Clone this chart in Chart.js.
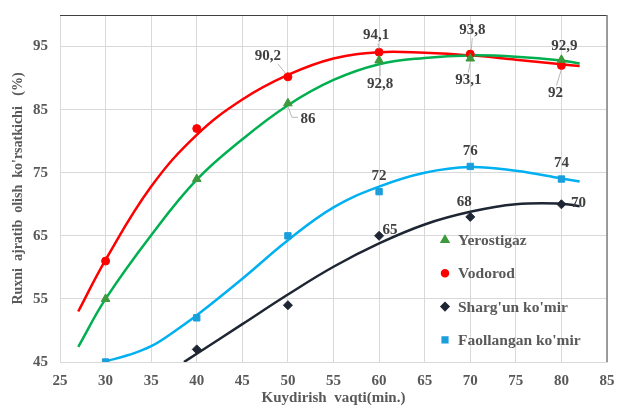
<!DOCTYPE html>
<html>
<head>
<meta charset="utf-8">
<script src="https://cdn.jsdelivr.net/npm/chart.js@4.4.1/dist/chart.umd.min.js"></script>
<style>
    html, body { margin: 0; padding: 0; background: #ffffff; }
    #wrap { width: 617px; height: 408px; }
</style>
</head>
<body>
<div id="wrap"><canvas id="roastChart" width="617" height="408"></canvas></div>
<script>
// Measured points (roasting time, min -> extraction, %)
const xValues = [30, 40, 50, 60, 70, 80];
const yerostigaz = [55, 74, 86, 92.8, 93.1, 92.9];
const vodorod = [61, 82, 90.2, 94.1, 93.8, 92];
const shargun = [null, 47, 54, 65, 68, 70];
const faollangan = [45, 52, 65, 72, 76, 74];

// Trend curves
const trendX = [27, 30, 35, 40, 45, 50, 55, 60, 65, 70, 75, 80, 82];
const yerostigazTrend = [47.4, 55.0, 65.1, 73.9, 80.3, 85.7, 89.7, 92.2, 93.2, 93.6, 93.4, 92.8, 92.3];
const vodorodTrend = [53.0, 61.2, 72.8, 81.0, 86.6, 90.5, 93.1, 94.1, 94.0, 93.6, 92.9, 92.2, 91.9];
const faollanganTrendX = [30, 32.5, 35, 37.5, 40, 45, 50, 55, 60, 65, 70, 75, 80, 82];
const faollanganTrend = [45.1, 46.1, 47.5, 49.8, 52.4, 58.2, 64.3, 69.5, 72.8, 75.0, 75.9, 75.3, 74.1, 73.6];
const shargunTrendX = [38.6, 40, 45, 50, 55, 60, 65, 70, 75, 80, 82];
const shargunTrend = [45.0, 46.3, 51.0, 55.7, 60.1, 63.8, 66.8, 68.8, 70.0, 70.1, 69.7];

const xTicks = [25, 30, 35, 40, 45, 50, 55, 60, 65, 70, 75, 80, 85];
const yTicks = [45, 55, 65, 75, 85, 95];

const FONT = '"Liberation Serif", "Times New Roman", serif';
const TEXT = '#595959';

function pairs(xs, ys) {
    const out = [];
    xs.forEach((x, i) => {
        if (ys[i] !== null) out.push({ x: x, y: ys[i] });
    });
    return out;
}

// label offsets (px from the marker) and optional leader line, per series index
const labelStyle = {
    yerostigaz: { 2: { dx: 20, dy: 16, lead: [[0, 3], [4, 14], [10, 14]] },
                  3: { dx: 1, dy: 24, lead: [[1, 4], [1, 16]] },
                  4: { dx: -2, dy: 22, lead: [[0, 4], [-2, 14]] },
                  5: { dx: 3, dy: -14 } },
    vodorod: { 2: { dx: -20, dy: -21, lead: [[-10, -13], [-2, -3]] },
               3: { dx: -3, dy: -17, lead: [[-1, -9], [0, -3]] },
               4: { dx: 2, dy: -24, lead: [[2, -16], [1, -4]] },
               5: { dx: -6, dy: 28, lead: [[0, 4], [-5, 20]] } },
    shargun: { 3: { dx: 11, dy: -6 }, 4: { dx: -6, dy: -15 }, 5: { dx: 17, dy: -1 } },
    faollangan: { 3: { dx: 0, dy: -16 }, 4: { dx: 0, dy: -15 }, 5: { dx: 0, dy: -16 } }
};

const series = [
    { key: 'yerostigaz', label: 'Yerostigaz', values: yerostigaz, tx: trendX, ty: yerostigazTrend,
      line: '#00b050', mark: '#3c9a3c', style: 'triangle', r: 5 },
    { key: 'vodorod', label: 'Vodorod', values: vodorod, tx: trendX, ty: vodorodTrend,
      line: '#ff0000', mark: '#ff0000', style: 'circle', r: 4 },
    { key: 'shargun', label: "Sharg'un ko'mir", values: shargun, tx: shargunTrendX, ty: shargunTrend,
      line: '#1f2633', mark: '#1f2633', style: 'rectRot', r: 4.5 },
    { key: 'faollangan', label: "Faollangan ko'mir", values: faollangan, tx: faollanganTrendX, ty: faollanganTrend,
      line: '#00b0f0', mark: '#1a9fdc', style: 'rect', r: 4.5 }
];

const datasets = [];
series.forEach(s => {
    datasets.push({
        label: s.label + ' trend',
        data: pairs(s.tx, s.ty),
        showLine: true,
        borderColor: s.line,
        borderWidth: 2.5,
        pointRadius: 0,
        tension: 0.4,
        order: 2
    });
    datasets.push({
        label: s.label,
        data: pairs(xValues, s.values),
        showLine: false,
        pointStyle: s.style,
        pointRadius: s.r,
        backgroundColor: s.mark,
        borderColor: s.mark,
        borderWidth: 1,
        order: 1
    });
});

// value labels with thin grey leader lines
const valueLabels = {
    id: 'valueLabels',
    afterDatasetsDraw(chart) {
        const ctx = chart.ctx;
        const xs = chart.scales.x;
        const ys = chart.scales.y;
        ctx.save();
        ctx.font = 'bold 15px ' + FONT;
        ctx.textAlign = 'center';
        ctx.textBaseline = 'middle';
        series.forEach(s => {
            const styles = labelStyle[s.key];
            s.values.forEach((v, i) => {
                const st = styles[i];
                if (!st || v === null) return;
                const px = xs.getPixelForValue(xValues[i]);
                const py = ys.getPixelForValue(v);
                if (st.lead) {
                    ctx.strokeStyle = '#a6a6a6';
                    ctx.lineWidth = 0.8;
                    ctx.beginPath();
                    st.lead.forEach((p, k) => {
                        if (k === 0) ctx.moveTo(px + p[0], py + p[1]);
                        else ctx.lineTo(px + p[0], py + p[1]);
                    });
                    ctx.stroke();
                }
                ctx.fillStyle = '#404040';
                ctx.fillText(String(v).replace('.', ','), px + st.dx, py + st.dy);
            });
        });
        ctx.restore();
    }
};

// top / right frame and the legend inside the plot
const frameAndLegend = {
    id: 'frameAndLegend',
    afterDraw(chart) {
        const ctx = chart.ctx;
        const a = chart.chartArea;
        ctx.save();
        ctx.strokeStyle = '#404040';
        ctx.lineWidth = 1.2;
        ctx.beginPath();
        ctx.moveTo(a.left, a.top + 0.5);
        ctx.lineTo(a.right, a.top + 0.5);
        ctx.stroke();
        ctx.strokeStyle = '#808080';
        ctx.lineWidth = 1.5;
        ctx.beginPath();
        ctx.moveTo(a.right, a.top);
        ctx.lineTo(a.right, a.bottom);
        ctx.stroke();

        ctx.font = 'bold 15.5px ' + FONT;
        ctx.textAlign = 'left';
        ctx.textBaseline = 'middle';
        let y = 240;
        series.forEach(s => {
            ctx.fillStyle = s.mark;
            ctx.strokeStyle = s.mark;
            Chart.helpers.drawPoint(ctx, { pointStyle: s.style, radius: s.r - 0.5, rotation: 0, borderWidth: 1 }, 445, y);
            ctx.fillStyle = TEXT;
            ctx.fillText(s.label, 458, y + 1);
            y += 33.3;
        });
        ctx.restore();
    }
};

new Chart(document.getElementById('roastChart'), {
    type: 'scatter',
    data: { datasets: datasets },
    options: {
        responsive: false,
        animation: false,
        layout: { padding: { top: 15, right: 10, left: 0, bottom: 0 } },
        plugins: {
            legend: { display: false },
            tooltip: { enabled: false }
        },
        scales: {
            x: {
                type: 'linear',
                min: 25,
                max: 85,
                afterBuildTicks: s => { s.ticks = xTicks.map(v => ({ value: v })); },
                afterFit: s => { s.height = 46; s.paddingLeft = 0; s.paddingRight = 0; },
                grid: { color: '#d9d9d9', drawTicks: false },
                border: { color: '#d9d9d9' },
                ticks: { padding: 10, color: TEXT, font: { family: FONT, size: 15, weight: 'bold' } },
                title: {
                    display: true,
                    text: 'Kuydirish  vaqti(min.)',
                    color: TEXT,
                    font: { family: FONT, size: 15, weight: 'bold' },
                    padding: { top: 0, bottom: 1 }
                }
            },
            y: {
                type: 'linear',
                min: 45,
                max: 100,
                afterBuildTicks: s => { s.ticks = yTicks.map(v => ({ value: v })); },
                afterFit: s => { s.width = 60; s.paddingTop = 0; s.paddingBottom = 0; },
                grid: { color: '#d9d9d9', drawTicks: false },
                border: { color: '#d9d9d9' },
                ticks: { padding: 12, color: TEXT, font: { family: FONT, size: 15, weight: 'bold' } },
                title: {
                    display: true,
                    text: "Ruxni  ajratib  olish  ko'rsatkichi   (%)",
                    color: TEXT,
                    font: { family: FONT, size: 14, weight: 'bold' },
                    padding: { top: 10, bottom: 0 }
                }
            }
        }
    },
    plugins: [valueLabels, frameAndLegend]
});
</script>
</body>
</html>
